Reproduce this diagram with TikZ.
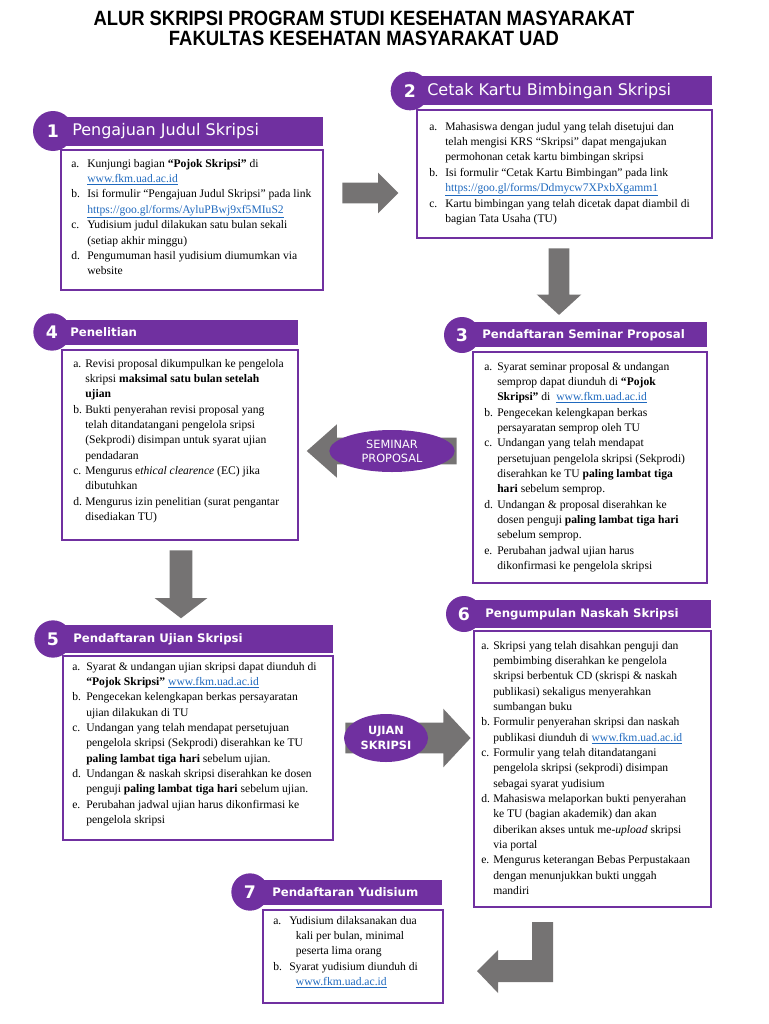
\documentclass[tikz,border=0pt]{standalone}
\usepackage{fontspec}
\setmainfont{Liberation Serif}
\newfontfamily\headfont{DejaVu Sans}
\newfontfamily\titlefont[FakeStretch=0.89]{Liberation Sans}
\usepackage{tikz}
\usetikzlibrary{shapes.geometric,shapes.arrows,fit,positioning}
\definecolor{ungu}{RGB}{112,48,160}
\definecolor{abu}{RGB}{117,115,115}
\definecolor{biru}{RGB}{31,105,190}
\newcommand{\lnk}[1]{\textcolor{biru}{\underline{#1}}}
\newcommand{\poin}[2]{\begin{tabular}{@{}p{#1}@{}l@{}}#2\end{tabular}}

\begin{document}
\begin{tikzpicture}[x=0.75pt,y=-0.75pt,
    bar/.style={rectangle, fill=ungu, inner sep=0pt},
    nomor/.style={circle, fill=ungu, text=white, inner sep=0pt, minimum size=#1,
      font=\headfont\bfseries\fontsize{13}{13}\selectfont},
    judul/.style={anchor=west, text=white, inner sep=0pt, font=\headfont\fontsize{12}{12}\selectfont},
    judulb/.style={anchor=west, text=white, inner sep=0pt, font=\headfont\bfseries\fontsize{8.8}{8.8}\selectfont},
    isi/.style={rectangle, draw=ungu, line width=1.3pt, inner sep=0pt},
    teks/.style={anchor=north west, inner sep=0pt, font=\fontsize{8.7}{11.5}\selectfont},
    panah/.style={single arrow, fill=abu, single arrow head indent=0pt, anchor=tail},
    oval/.style={ellipse, fill=ungu, text=white, align=center, inner sep=0pt}]
  \useasboundingbox (0,0) rectangle (768,1024);

  \node[font=\titlefont\bfseries\fontsize{15.5}{15}\selectfont, align=center, inner sep=0pt] (judulutama) at (364,28)
    {ALUR SKRIPSI PROGRAM STUDI KESEHATAN MASYARAKAT\\FAKULTAS KESEHATAN MASYARAKAT UAD};

  \node[panah, single arrow head extend=7.5pt, single arrow tip angle=90, inner sep=7.5pt, minimum height=42pt] (p12) at (342,193) {};
  \node[panah, rotate=-90, single arrow head extend=9pt, single arrow tip angle=95, inner sep=7.5pt, minimum height=50pt] (p23) at (559,248) {};
  \node[panah, rotate=180, single arrow head extend=10pt, single arrow tip angle=83, inner sep=9.75pt, minimum height=112.5pt] (p34) at (457,451) {};
  \node[panah, rotate=-90, single arrow head extend=11.25pt, single arrow tip angle=105, inner sep=8.25pt, minimum height=51pt] (p45) at (181,550) {};
  \node[panah, single arrow head extend=10.5pt, single arrow tip angle=94, inner sep=11.25pt, minimum height=94pt] (p56) at (345,738) {};
  \fill[abu] (532,922) -- (553,922) -- (553,982) -- (498,982) -- (498,993) -- (477,971) -- (498,950) -- (498,960) -- (532,960) -- cycle;

  \node[oval, minimum width=94pt, minimum height=31.5pt, font=\headfont\fontsize{8.5}{10.5}\selectfont] (sempro) at (392,451) {SEMINAR\\PROPOSAL};
  \node[oval, minimum width=63pt, minimum height=36pt, font=\headfont\bfseries\fontsize{8.5}{11}\selectfont] (ujian) at (386,738) {UJIAN\\SKRIPSI};

  \node[bar, fit={(55,117) (323,146)}] (bar1) {};
  \node[nomor=30pt] (n1) at (53,131) {1};
  \node[judul] (j1) at (72,131) {Pengajuan Judul Skripsi};
  \node[isi, fit={(61,150) (323,290)}] (kotak1) {};
  \node[teks] (t1) at (71,156) {\poin{12pt}{
    a. & Kunjungi bagian \textbf{``Pojok Skripsi''} di\\
       & \lnk{www.fkm.uad.ac.id}\\
    b. & Isi formulir ``Pengajuan Judul Skripsi'' pada link\\
       & \lnk{https://goo.gl/forms/AyluPBwj9xf5MIuS2}\\
    c. & Yudisium judul dilakukan satu bulan sekali\\
       & (setiap akhir minggu)\\
    d. & Pengumuman hasil yudisium diumumkan via\\
       & website}};

  \node[bar, fit={(400,76) (712,105)}] (bar2) {};
  \node[nomor=29pt] (n2) at (410,91) {2};
  \node[judul] (j2) at (427,91) {Cetak Kartu Bimbingan Skripsi};
  \node[isi, fit={(417,110) (712,238)}] (kotak2) {};
  \node[teks] (t2) at (429,119) {\poin{12pt}{
    a. & Mahasiswa dengan judul yang telah disetujui dan\\
       & telah mengisi KRS ``Skripsi'' dapat mengajukan\\
       & permohonan cetak kartu bimbingan skripsi\\
    b. & Isi formulir ``Cetak Kartu Bimbingan'' pada link\\
       & \lnk{https://goo.gl/forms/Ddmycw7XPxbXgamm1}\\
    c. & Kartu bimbingan yang telah dicetak dapat diambil di\\
       & bagian Tata Usaha (TU)}};

  \node[bar, fit={(470,322) (707,347)}] (bar3) {};
  \node[nomor=27pt] (n3) at (462,335) {3};
  \node[judulb] (j3) at (482,335) {Pendaftaran Seminar Proposal};
  \node[isi, fit={(473,352) (707,583)}] (kotak3) {};
  \node[teks] (t3) at (484,359) {\poin{9.75pt}{
    a. & Syarat seminar proposal \& undangan\\
       & semprop dapat diunduh di \textbf{``Pojok}\\
       & \textbf{Skripsi''} di \ \lnk{www.fkm.uad.ac.id}\\
    b. & Pengecekan kelengkapan berkas\\
       & persayaratan semprop oleh TU\\
    c. & Undangan yang telah mendapat\\
       & persetujuan pengelola skripsi (Sekprodi)\\
       & diserahkan ke TU \textbf{paling lambat tiga}\\
       & \textbf{hari} sebelum semprop.\\
    d. & Undangan \& proposal diserahkan ke\\
       & dosen penguji \textbf{paling lambat tiga hari}\\
       & sebelum semprop.\\
    e. & Perubahan jadwal ujian harus\\
       & dikonfirmasi ke pengelola skripsi}};

  \node[bar, fit={(55,320) (298,345)}] (bar4) {};
  \node[nomor=28pt] (n4) at (52,332) {4};
  \node[judulb] (j4) at (70,332) {Penelitian};
  \node[isi, fit={(62,350) (298,540)}] (kotak4) {};
  \node[teks] (t4) at (73,356) {\poin{9pt}{
    a. & Revisi proposal dikumpulkan ke pengelola\\
       & skripsi \textbf{maksimal satu bulan setelah}\\
       & \textbf{ujian}\\
    b. & Bukti penyerahan revisi proposal yang\\
       & telah ditandatangani pengelola sripsi\\
       & (Sekprodi) disimpan untuk syarat ujian\\
       & pendadaran\\
    c. & Mengurus e\textit{thical clearence} (EC) jika\\
       & dibutuhkan\\
    d. & Mengurus izin penelitian (surat pengantar\\
       & disediakan TU)}};

  \node[bar, fit={(55,625) (333,653)}] (bar5) {};
  \node[nomor=28pt] (n5) at (53,639) {5};
  \node[judulb] (j5) at (73,639) {Pendaftaran Ujian Skripsi};
  \node[isi, fit={(63,656) (333,840)}] (kotak5) {};
  \node[teks] (t5) at (72,659) {\poin{10.5pt}{
    a. & Syarat \& undangan ujian skripsi dapat diunduh di\\
       & \textbf{``Pojok Skripsi''} \lnk{www.fkm.uad.ac.id}\\
    b. & Pengecekan kelengkapan berkas persayaratan\\
       & ujian dilakukan di TU\\
    c. & Undangan yang telah mendapat persetujuan\\
       & pengelola skripsi (Sekprodi) diserahkan ke TU\\
       & \textbf{paling lambat tiga hari} sebelum ujian.\\
    d. & Undangan \& naskah skripsi diserahkan ke dosen\\
       & penguji \textbf{paling lambat tiga hari} sebelum ujian.\\
    e. & Perubahan jadwal ujian harus dikonfirmasi ke\\
       & pengelola skripsi}};

  \node[bar, fit={(470,600) (711,628)}] (bar6) {};
  \node[nomor=27pt] (n6) at (464,614) {6};
  \node[judulb] (j6) at (485,614) {Pengumpulan Naskah Skripsi};
  \node[isi, fit={(474,631) (711,907)}] (kotak6) {};
  \node[teks] (t6) at (481,638) {\poin{9pt}{
    a. & Skripsi yang telah disahkan penguji dan\\
       & pembimbing diserahkan ke pengelola\\
       & skripsi berbentuk CD (skrispi \& naskah\\
       & publikasi) sekaligus menyerahkan\\
       & sumbangan buku\\
    b. & Formulir penyerahan skripsi dan naskah\\
       & publikasi diunduh di \lnk{www.fkm.uad.ac.id}\\
    c. & Formulir yang telah ditandatangani\\
       & pengelola skripsi (sekprodi) disimpan\\
       & sebagai syarat yudisium\\
    d. & Mahasiswa melaporkan bukti penyerahan\\
       & ke TU (bagian akademik) dan akan\\
       & diberikan akses untuk me-\textit{upload} skripsi\\
       & via portal\\
    e. & Mengurus keterangan Bebas Perpustakaan\\
       & dengan menunjukkan bukti unggah\\
       & mandiri}};

  \node[bar, fit={(250,880) (442,905)}] (bar7) {};
  \node[nomor=28pt] (n7) at (250,892) {7};
  \node[judulb] (j7) at (272,892) {Pendaftaran Yudisium};
  \node[isi, fit={(263,910) (443,1003)}] (kotak7) {};
  \node[teks] (t7) at (273,913) {\poin{12pt}{
    a. & Yudisium dilaksanakan dua\\
       & \hspace{5pt}kali per bulan, minimal\\
       & \hspace{5pt}peserta lima orang\\
    b. & Syarat yudisium diunduh di\\
       & \hspace{5pt}\lnk{www.fkm.uad.ac.id}}};
\end{tikzpicture}
\end{document}
